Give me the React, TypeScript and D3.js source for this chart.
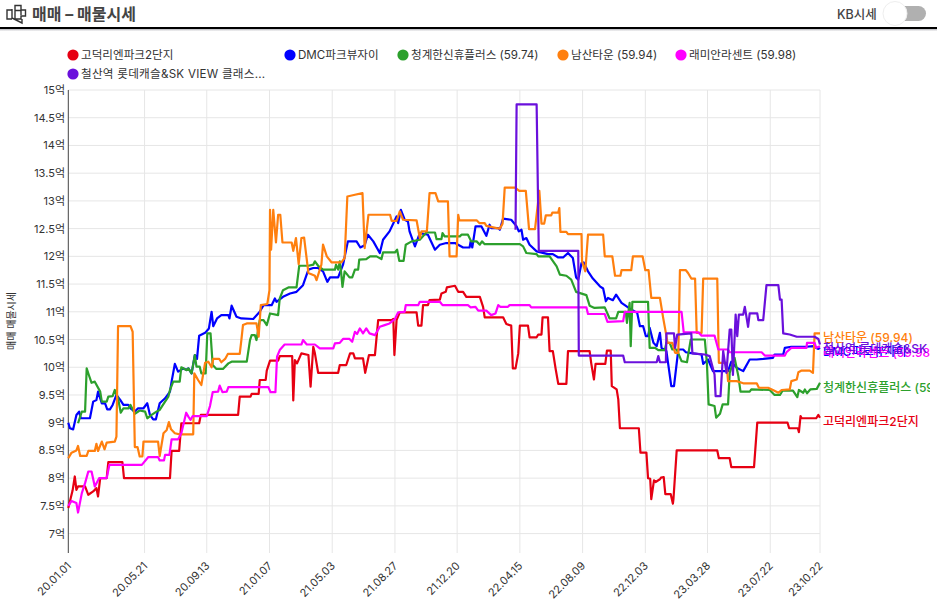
import React from "react";
import * as d3 from "d3";

const FONT = "Inter, 'Noto Sans CJK KR', sans-serif";
const START = "2020-01-01";
const END = "2023-10-22";

const tickLabels = ["20.01.01","20.05.21","20.09.13","21.01.07","21.05.03","21.08.27","21.12.20","22.04.15","22.08.09","22.12.03","23.03.28","23.07.22","23.10.22"];
const tickDates = ["2020-01-01","2020-05-21","2020-09-13","2021-01-07","2021-05-03","2021-08-27","2021-12-20","2022-04-15","2022-08-09","2022-12-03","2023-03-28","2023-07-22","2023-10-22"];
const yTicks = [7,7.5,8,8.5,9,9.5,10,10.5,11,11.5,12,12.5,13,13.5,14,14.5,15];

// [days since 2020-01-01, price in 억]
const redData: [number,number][] = [[0,7.46],[8,7.78],[12,8.03],[15,7.79],[18,7.85],[31,7.85],[37,7.7],[46,7.76],[52,7.82],[55,7.67],[59,8],[71,8],[74,8.29],[100,8.29],[103,8],[188,8],[191,8.49],[205,8.49],[209,8.99],[242,8.99],[245,9.14],[314,9.14],[317,9.47],[337,9.47],[339,9.52],[352,9.52],[354,9.77],[365,9.77],[367,9.94],[373,10.12],[388,10.12],[391,10.2],[414,10.2],[416,9.4],[419,10.13],[423,10.07],[431,10.25],[444,10.22],[448,9.65],[453,10.37],[456,10.25],[462,9.9],[499,9.9],[502,10.04],[514,10.04],[521,10.25],[527,10.25],[530,10.16],[545,10.16],[549,9.9],[556,10.22],[567,10.22],[573,10.85],[598,10.85],[601,10.87],[603,10.22],[607,10.85],[613,10.99],[644,10.99],[647,10.75],[653,10.75],[656,11.12],[665,11.12],[668,11.21],[687,11.22],[690,11.33],[698,11.36],[700,11.44],[715,11.47],[721,11.36],[730,11.36],[736,11.27],[761,11.27],[767,11.09],[770,10.9],[804,10.9],[810,10.78],[819,10.75],[822,9.98],[827,9.98],[832,10.25],[835,10.75],[850,10.75],[853,10.54],[866,10.54],[869,10.59],[875,10.59],[877,10.9],[887,10.9],[890,10.29],[896,10.29],[901,9.98],[906,9.7],[921,9.7],[924,10.29],[964,10.29],[967,10.07],[972,9.78],[975,10.06],[993,10.06],[996,10.3],[1003,10.3],[1005,9.66],[1014,9.6],[1017,9.42],[1020,8.9],[1055,8.9],[1058,8.46],[1069,8.46],[1072,8],[1076,7.99],[1078,7.62],[1083,7.96],[1086,7.93],[1094,7.98],[1096,8.01],[1101,8.02],[1104,7.71],[1114,7.71],[1118,7.54],[1119,7.62],[1125,8.5],[1200,8.5],[1203,8.36],[1223,8.36],[1226,8.2],[1268,8.2],[1274,9],[1330,9],[1333,8.9],[1349,8.9],[1351,8.83],[1354,9.12],[1356,9.08],[1383,9.08],[1387,9.14],[1390,9.09]];

const blueData: [number,number][] = [[0,9],[3,8.9],[9,8.88],[15,9.14],[20,9.2],[23,9.08],[40,9.08],[46,9.38],[52,9.41],[55,9.56],[62,9.35],[68,9.35],[72,9.24],[77,9.24],[82,9.32],[89,9.5],[96,9.41],[102,9.32],[111,9.32],[115,9.26],[123,9.2],[129,9.26],[139,9.26],[146,9.35],[151,9.14],[157,9.06],[162,9.06],[169,9.35],[179,9.44],[188,9.56],[191,9.74],[197,10.06],[203,9.92],[213,9.98],[219,9.95],[222,9.98],[228,9.89],[234,10.22],[238,10.15],[242,10.57],[253,10.62],[260,10.7],[265,11],[268,10.74],[275,10.88],[283,10.94],[296,10.94],[298,10.88],[302,11.11],[311,10.91],[320,10.88],[342,10.87],[354,11],[361,11.12],[376,11.12],[382,11.24],[385,11.18],[397,11.27],[410,11.33],[422,11.36],[428,11.42],[434,11.48],[444,11.76],[453,11.79],[462,11.79],[471,11.73],[479,11.54],[484,11.62],[499,11.62],[508,11.85],[517,12.27],[533,12.27],[540,12.16],[548,12.2],[554,12.39],[564,12.27],[576,12.06],[582,12.3],[594,12.45],[607,12.72],[610,12.6],[615,12.84],[622,12.66],[628,12.63],[631,12.45],[641,12.18],[650,12.42],[665,12.39],[678,12.12],[687,12.21],[699,12.24],[715,12.24],[730,12.16],[742,12.16],[744,12.27],[747,12.16],[753,12.54],[764,12.54],[773,12.37],[779,12.57],[782,12.51],[795,12.51],[798,12.48],[804,12.68],[819,12.66],[829,12.54],[833,12.45],[838,12.48],[841,12.3],[847,12.33],[853,12.21],[866,12.09],[887,12.04],[896,12.04],[906,11.98],[915,11.98],[924,12.06],[933,11.97],[939,11.62],[943,11.58],[949,11.88],[953,11.89],[961,11.73],[970,11.6],[983,11.46],[989,11.42],[994,11.19],[998,11.25],[1007,11.21],[1013,11.31],[1023,11.16],[1041,11.04],[1052,10.98],[1057,10.74],[1063,10.74],[1068,10.56],[1072,10.56],[1075,10.71],[1082,10.44],[1088,10.38],[1094,10.62],[1097,10.35],[1106,10.29],[1115,9.66],[1120,9.66],[1128,10.32],[1137,10.32],[1142,10.27],[1149,10.26],[1171,10.23],[1174,10.06],[1183,10.14],[1192,9.93],[1220,9.93],[1226,10.1],[1236,9.99],[1248,9.93],[1260,10.14],[1273,10.14],[1285,10.15],[1303,10.17],[1306,10.23],[1322,10.23],[1325,10.35],[1337,10.37],[1365,10.37],[1377,10.38],[1387,10.33],[1390,10.35]];

const greenData: [number,number][] = [[18,8.99],[25,9.2],[31,9.2],[34,9.98],[38,9.86],[43,9.72],[49,9.74],[59,9.56],[62,9.38],[71,9.38],[74,9.47],[82,9.48],[86,9.59],[92,9.44],[97,9.18],[102,9.26],[111,9.26],[115,9.32],[123,9.16],[132,9.22],[142,9.2],[146,9.08],[154,9.14],[163,9.2],[169,9.23],[185,9.47],[188,9.59],[194,9.74],[206,9.74],[209,10],[218,9.95],[222,9.98],[228,9.89],[234,10.22],[237,10.01],[243,10.01],[246,9.89],[254,9.89],[257,10.61],[263,10.61],[267,10.04],[274,9.97],[286,9.97],[296,10.07],[302,10.1],[330,10.1],[336,10.49],[339,10.58],[345,10.58],[348,10.49],[354,10.85],[361,10.85],[367,10.76],[373,10.97],[388,10.94],[391,11.24],[397,11.39],[407,11.44],[422,11.44],[427,11.83],[444,11.83],[453,11.85],[456,11.91],[462,11.83],[471,11.76],[493,11.76],[495,11.85],[499,11.76],[502,11.91],[504,11.76],[507,11.45],[511,11.73],[520,11.62],[525,11.62],[530,11.76],[536,11.76],[538,11.94],[551,11.95],[558,12],[570,12],[579,11.95],[582,12.07],[604,12.07],[608,12.12],[612,11.92],[620,11.92],[624,12.21],[635,12.27],[650,12.3],[662,12.43],[678,12.43],[681,12.31],[690,12.31],[692,12.42],[696,12.36],[724,12.36],[727,12.39],[739,12.39],[745,12.27],[755,12.27],[761,12.21],[765,12.27],[770,12.22],[835,12.22],[841,12.18],[847,12.06],[866,12.04],[869,12],[890,12],[903,11.82],[909,11.67],[921,11.65],[930,11.58],[939,11.36],[958,11.3],[964,11.11],[973,11.07],[992,11.08],[1001,10.88],[1013,10.88],[1017,11],[1031,11],[1033,10.8],[1038,11.16],[1040,10.38],[1043,11.18],[1072,11.18],[1075,10.35],[1085,10.35],[1091,10.31],[1103,10.31],[1106,10.44],[1112,10.44],[1117,10.32],[1125,10.32],[1134,10.11],[1144,10.09],[1151,10.5],[1177,10.5],[1181,10.05],[1184,9.33],[1195,9.3],[1198,9.09],[1205,9.16],[1210,9.33],[1220,9.33],[1223,9.9],[1232,10.17],[1239,9.84],[1243,9.56],[1260,9.56],[1263,9.6],[1297,9.59],[1306,9.5],[1316,9.5],[1321,9.58],[1340,9.58],[1348,9.46],[1351,9.59],[1359,9.54],[1362,9.6],[1366,9.53],[1372,9.6],[1384,9.61],[1390,9.72]];

const orangeData: [number,number][] = [[0,8.36],[6,8.46],[15,8.5],[18,8.58],[22,8.4],[34,8.4],[37,8.49],[49,8.49],[52,8.62],[55,8.49],[62,8.66],[67,8.52],[71,8.64],[86,8.66],[89,8.75],[92,10.74],[115,10.74],[119,10.64],[123,8.56],[128,8.56],[132,8.39],[137,8.39],[139,8.66],[166,8.66],[169,8.4],[176,8.81],[182,8.87],[186,9.01],[190,8.88],[197,8.81],[206,8.79],[231,8.79],[233,9.89],[240,9.77],[246,9.68],[253,10.08],[259,10.1],[265,10],[268,10.15],[279,10.15],[283,10.09],[290,10.15],[295,10.24],[317,10.24],[320,10.49],[323,10.76],[330,10.79],[348,10.79],[352,10.55],[356,11.12],[368,11.14],[372,11.39],[373,12.84],[375,12.12],[379,12.84],[384,12.25],[388,12.75],[392,12.75],[396,12.25],[413,12.25],[416,12.1],[421,12.33],[426,11.86],[431,12.33],[436,12.34],[444,11.7],[456,11.65],[459,11.57],[468,11.85],[471,12.21],[478,12],[487,11.89],[505,11.89],[511,11.97],[516,13.08],[530,13.11],[544,13.14],[548,12.15],[555,12.75],[595,12.75],[598,12.64],[607,12.64],[613,12.81],[619,12.66],[644,12.65],[650,12.33],[653,12.45],[663,12.45],[668,13.14],[679,13.14],[684,12.99],[702,12.99],[705,12],[718,12],[721,12.75],[723,12.65],[755,12.65],[760,12.6],[770,12.6],[773,12.55],[792,12.51],[798,12.5],[803,12.59],[807,13.24],[826,13.24],[834,13.18],[846,13.18],[852,12.49],[863,12.49],[871,13.18],[875,12.59],[880,12.59],[883,12.74],[893,12.74],[895,12.79],[906,12.79],[908,12.87],[910,12.44],[921,12.44],[924,12.4],[949,12.4],[950,11.91],[956,11.73],[961,12.39],[989,12.39],[992,12],[1006,12],[1011,11.65],[1021,11.65],[1023,11.75],[1041,11.75],[1044,12],[1062,12],[1067,11.75],[1073,11.75],[1078,11.25],[1094,11.25],[1100,10.89],[1105,10.62],[1108,10.44],[1117,10.44],[1122,10.26],[1128,10.26],[1131,11.75],[1142,11.75],[1146,11.7],[1152,11.6],[1159,11.6],[1162,10.62],[1171,10.62],[1174,11.6],[1200,11.6],[1203,10.08],[1217,10.08],[1220,9.75],[1236,9.75],[1248,9.71],[1273,9.71],[1277,9.63],[1294,9.63],[1303,9.59],[1313,9.54],[1319,9.59],[1334,9.6],[1337,9.75],[1347,9.78],[1350,9.91],[1356,9.94],[1371,9.94],[1377,9.9],[1380,10.61],[1390,10.61]];

const magentaData: [number,number][] = [[0,7.5],[6,7.59],[15,7.55],[18,7.38],[25,7.73],[31,7.91],[37,8.12],[43,8.12],[49,7.85],[57,8],[71,8],[76,8.24],[136,8.24],[148,8.38],[166,8.38],[169,8.32],[177,8.32],[179,8.42],[187,8.42],[191,8.7],[203,8.7],[209,8.81],[218,9.18],[222,9.11],[226,9.05],[230,9.12],[256,9.12],[262,9.3],[267,9.55],[277,9.56],[280,9.67],[285,9.55],[293,9.56],[296,9.64],[370,9.64],[374,9.55],[383,9.55],[386,10.19],[391,10.31],[400,10.41],[431,10.41],[434,10.49],[441,10.41],[456,10.41],[465,10.34],[490,10.34],[493,10.43],[502,10.44],[508,10.51],[520,10.51],[525,10.46],[530,10.64],[534,10.6],[539,10.7],[545,10.61],[551,10.7],[557,10.61],[567,10.58],[576,10.73],[585,10.76],[594,10.79],[604,10.87],[610,10.99],[622,11],[624,11.12],[647,11.12],[650,11.18],[687,11.18],[692,11.12],[739,11.12],[744,11.08],[753,11.09],[758,11.02],[773,11.02],[782,10.94],[790,10.97],[795,11.12],[799,11.09],[813,11.09],[816,11.12],[853,11.12],[856,11.08],[958,11.08],[961,10.96],[992,10.96],[997,10.82],[1026,10.83],[1029,11],[1134,11],[1138,10.63],[1165,10.63],[1171,10.57],[1195,10.57],[1202,10.32],[1220,10.32],[1223,10.27],[1282,10.27],[1288,10.21],[1325,10.21],[1328,10.27],[1337,10.35],[1365,10.35],[1366,10.44],[1380,10.44],[1383,10.35],[1390,10.38]];

const purpleData: [number,number][] = [[827,12.48],[829,14.74],[866,14.74],[870,12.1],[943,12.1],[944,10.21],[1026,10.21],[1029,10.09],[1088,10.09],[1091,10.2],[1094,10.09],[1105,10.09],[1106,10.61],[1120,10.61],[1122,10.35],[1126,10.59],[1152,10.61],[1154,10.25],[1177,10.23],[1186,10.2],[1195,9.87],[1197,9.48],[1206,9.48],[1211,10.29],[1217,9.9],[1223,10.68],[1226,10.68],[1229,9.86],[1234,10.95],[1237,10.56],[1240,10.95],[1248,10.95],[1251,11.09],[1257,10.73],[1260,10.97],[1274,10.97],[1276,10.85],[1285,10.85],[1291,11.48],[1313,11.48],[1316,11.22],[1319,11.22],[1322,10.61],[1334,10.59],[1347,10.55],[1380,10.55],[1387,10.51],[1390,10.41]];

const seriesNames = ["고덕리엔파크2단지","DMC파크뷰자이","청계한신휴플러스 (59.74)","남산타운 (59.94)","래미안라센트 (59.98)","철산역 롯데캐슬&SK VIEW 클래스..."];
const endNames = ["고덕리엔파크2단지","DMC파크뷰자이","청계한신휴플러스 (59.74)","남산타운 (59.94)","래미안라센트 (59.98)","철산역 롯데캐슬&SK VIEW 클래스"];
const seriesColors = ["#e60012","#0000ff","#2ca02c","#ff7f0e","#ff00ff","#6a10dc"];
const seriesData = [redData, blueData, greenData, orangeData, magentaData, purpleData];

const legendX = [73, 290, 403, 563, 681, 73];
const legendY = [55, 55, 55, 55, 55, 74];
const endLabelOffset = [0, 0, 0.5, 0, 2, 0];

const W = 937, H = 608;
const L = 68.3, R = 820, T = 90, B = 553;
const parse = d3.utcParse("%Y-%m-%d");

export default function App() {
  const x = d3.scaleUtc().domain([parse(START)!, parse(END)!]).range([L, R]);
  const y = d3.scaleLinear().domain([15, 6.65]).range([T, B]);
  const line = d3.line<[number,number]>()
    .x(d => x(d3.utcDay.offset(parse(START)!, d[0])))
    .y(d => y(d[1]));

  return (
    <div style={{ position: "absolute", left: 0, top: 0 }}>
      <svg width={W} height={H} style={{ display: "block", fontFamily: FONT }}>
        <defs>
          <clipPath id="view"><rect x={0} y={0} width={930} height={H} /></clipPath>
          <linearGradient id="shade" x1="0" y1="0" x2="0" y2="1">
            <stop offset="0" stopColor="#bbbbc2" /><stop offset="1" stopColor="#ffffff" />
          </linearGradient>
        </defs>

        {/* Header */}
        <g fill="none" stroke="#333" strokeWidth={1.4}>
          <path d="M12 9 V18 L22 23 V19 M12 10 H7 V19 H12 M15 5.5 H21 V10 H25.5 V16 H21 V19 H15 Z M15 10.5 H21 V15" />
        </g>
        <text x={32} y={19.5} fontSize={16} fontWeight={700} fill="#444">매매 – 매물시세</text>
        <text x={837} y={19} fontSize={12.5} fontWeight={500} fill="#444">KB시세</text>
        <rect x={886} y={6} width={40} height={15} rx={7.5} fill="#b0b0b0" />
        <circle cx={895} cy={13.5} r={12} fill="#fff" stroke="#eee" />
        <rect x={0} y={27} width={W} height={2.2} fill="#000" />
        <rect x={0} y={29.2} width={W} height={2} fill="url(#shade)" />

        {/* Legend */}
        {seriesNames.map((n, i) => (
          <g key={n}>
            <circle cx={legendX[i]} cy={legendY[i]} r={5.6} fill={seriesColors[i]} />
            <text x={legendX[i] + 8} y={legendY[i] + 4} fontSize={11.6} fill="#333" letterSpacing={i === 5 ? 0.25 : 0}>{n}</text>
          </g>
        ))}

        {/* Grid */}
        {yTicks.map(t => (
          <g key={t}>
            <line x1={L} x2={R} y1={y(t)} y2={y(t)} stroke="#e6e6e6" strokeWidth={1} />
            <text x={65} y={y(t) + 4} textAnchor="end" fontSize={11} fill="#333">{t}억</text>
          </g>
        ))}
        {tickDates.slice(1).map(t => (
          <line key={t} x1={x(parse(t)!)} x2={x(parse(t)!)} y1={T} y2={B} stroke="#e6e6e6" strokeWidth={1} />
        ))}
        <line x1={L} x2={L} y1={T} y2={B} stroke="#444" strokeWidth={1} />

        {/* X labels */}
        {tickDates.map((t, i) => (
          <text key={t} textAnchor="end" fontSize={11} fill="#333"
            transform={`translate(${x(parse(t)!) + 1},${B + 11}) rotate(-45)`} dy="0.32em">
            {tickLabels[i]}
          </text>
        ))}

        {/* Y title */}
        <text transform="translate(15,321) rotate(-90)" textAnchor="middle" fontSize={10} fill="#333">매매 매물시세</text>

        {/* Series */}
        {seriesData.map((d, i) => (
          <path key={i} d={line(d)!} fill="none" stroke={seriesColors[i]} strokeWidth={2.2} strokeLinejoin="round" />
        ))}

        {/* End labels */}
        <g clipPath="url(#view)">
          {seriesData.map((d, i) => (
            <text key={i} x={823} y={y(d[d.length - 1][1]) + 8.5 + endLabelOffset[i]} fontSize={12} fontWeight={500} fill={seriesColors[i]}>
              {endNames[i]}
            </text>
          ))}
        </g>
      </svg>
    </div>
  );
}
